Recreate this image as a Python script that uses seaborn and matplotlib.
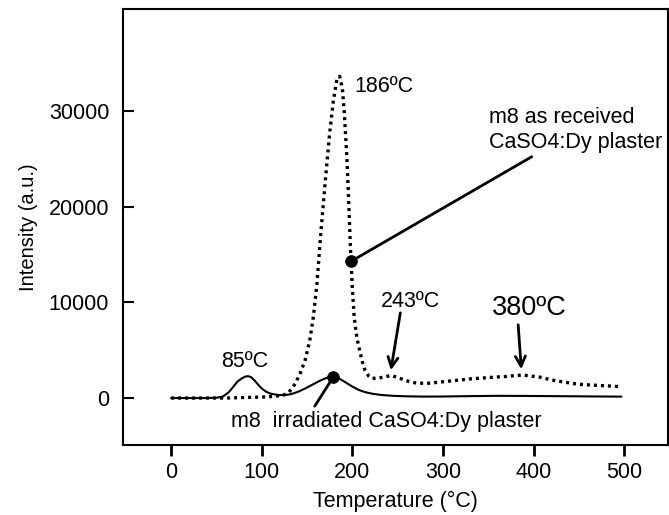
import numpy as np
import pandas as pd
import matplotlib
matplotlib.use('Agg')
import matplotlib.pyplot as plt
import seaborn as sns

# values
received_temp = [0, 20, 40, 60, 80, 100, 110, 120, 125, 130, 137, 143, 148, 153, 157,
                 161, 165, 170, 175, 179, 183, 186, 189, 191, 194, 196, 198, 200, 202,
                 205, 208, 211, 214, 218, 222, 230, 237, 243, 250, 260, 271, 285, 300,
                 315, 330, 345, 360, 370, 380, 388, 397, 406, 415, 425, 435, 445, 455,
                 465, 475, 485, 497]
received_int = [0, 0, 0, 0, 50, 100, 150, 250, 350, 600, 1500, 2700, 4000, 6000, 8500,
                12000, 17000, 22500, 27700, 31000, 33300, 33600, 32300, 30000, 25000,
                20500, 15500, 11500, 8500, 6300, 5000, 3800, 2900, 2300, 2050, 2100,
                2250, 2350, 2150, 1800, 1550, 1550, 1700, 1850, 2000, 2100, 2200, 2250,
                2350, 2400, 2300, 2200, 2000, 1800, 1650, 1500, 1400, 1350, 1300, 1250,
                1180]

irradiated_temp = [0, 20, 40, 50, 57, 63, 68, 73, 78, 82, 85, 88, 92, 96, 100, 105, 110,
                   118, 125, 132, 140, 148, 156, 164, 170, 175, 179, 183, 188, 194, 200,
                   207, 214, 222, 232, 245, 260, 280, 300, 330, 360, 390, 420, 450, 475,
                   497]
irradiated_int = [0, 0, 0, 30, 150, 550, 1100, 1700, 2050, 2250, 2280, 2200, 1850, 1400,
                  1000, 650, 450, 320, 300, 400, 650, 1000, 1400, 1800, 2050, 2200, 2250,
                  2150, 1900, 1550, 1200, 850, 620, 450, 320, 230, 180, 150, 160, 200,
                  230, 220, 200, 180, 160, 150]

marker_temp = [199, 179]
marker_int = [14300, 2200]

x_ticks = [0, 100, 200, 300, 400, 500]
y_ticks = [0, 10000, 20000, 30000]

sns.set_theme(style='ticks')
plt.rcParams['font.family'] = ['Liberation Sans', 'DejaVu Sans']
plt.rcParams['text.color'] = 'black'
plt.rcParams['axes.labelcolor'] = 'black'
plt.rcParams['xtick.color'] = 'black'
plt.rcParams['ytick.color'] = 'black'

fig = plt.figure(figsize=(6.69, 5.15), dpi=100)
ax = fig.add_axes([0.184, 0.136, 0.814, 0.846])

df_rec = pd.DataFrame({'T': received_temp, 'I': received_int})
df_irr = pd.DataFrame({'T': irradiated_temp, 'I': irradiated_int})

sns.lineplot(data=df_rec, x='T', y='I', ax=ax, color='black', lw=2.4,
             linestyle=(0, (0.9, 1.2)))
sns.lineplot(data=df_irr, x='T', y='I', ax=ax, color='black', lw=1.5)
sns.scatterplot(x=marker_temp, y=marker_int, ax=ax, color='black', s=70,
                edgecolor='black', zorder=5)

ax.set_xlim(-53, 548)
ax.set_ylim(-4900, 40600)
ax.set_xticks(x_ticks)
ax.set_yticks(y_ticks)
ax.tick_params(axis='y', direction='in', length=8, width=1.5, labelsize=15.5, pad=10)
ax.tick_params(axis='x', direction='out', length=8, width=2, labelsize=15.5, pad=4)
for s in ax.spines.values():
    s.set_visible(True)
    s.set_linewidth(1.5)
    s.set_color('black')

ax.set_xlabel('Temperature (°C)', fontsize=15.5, labelpad=6)
ax.set_ylabel('Intensity (a.u.)', fontsize=14.5, labelpad=8)

# text labels
ax.text(202, 32500, '186ºC', fontsize=15.5, va='center', ha='left')
ax.text(351, 28000, 'm8 as received\nCaSO4:Dy plaster', fontsize=15.5, va='center', ha='left')
ax.text(232, 10100, '243ºC', fontsize=15.5, va='center', ha='left')
ax.text(354, 9400, '380ºC', fontsize=19.5, va='center', ha='left')
ax.text(55, 3800, '85ºC', fontsize=15.5, va='center', ha='left')
ax.text(66, -2500, 'm8  irradiated CaSO4:Dy plaster', fontsize=15.5, va='center', ha='left')

# leader lines from the markers
ax.annotate('', xy=(199, 14300), xytext=(398, 25200),
            arrowprops=dict(arrowstyle='-', lw=2, color='black', shrinkA=0, shrinkB=0))
ax.annotate('', xy=(179, 2200), xytext=(158.5, -850),
            arrowprops=dict(arrowstyle='-', lw=2, color='black', shrinkA=0, shrinkB=0))

# arrows to the small peaks
ax.annotate('', xy=(242.5, 2900), xytext=(253, 8900),
            arrowprops=dict(arrowstyle='->,head_length=0.6,head_width=0.3', lw=2,
                            color='black', shrinkA=0, shrinkB=0))
ax.annotate('', xy=(386.5, 3000), xytext=(383, 7650),
            arrowprops=dict(arrowstyle='->,head_length=0.6,head_width=0.3', lw=2,
                            color='black', shrinkA=0, shrinkB=0))

fig.savefig('out.png', dpi=100)
